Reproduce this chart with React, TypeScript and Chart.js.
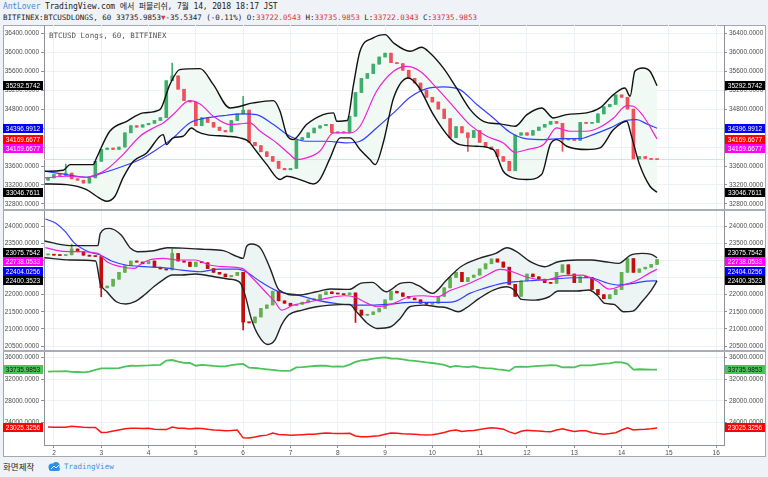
import React, { useEffect, useRef } from "react";
import { Chart, registerables } from "chart.js";

Chart.register(...registerables);

// ---------------- data ----------------
const FIRST_DAY = 1.875; // first 3-hour candle (July 1, 21:00)
const STEP_DAYS = 0.125; // 3 hours
const X_MIN = 1.79;
const X_MAX = 16.165;
const xTicks = [2, 3, 4, 5, 6, 7, 8, 9, 10, 11, 12, 13, 14, 15, 16];

const ticks1 = [32800, 33200, 33600, 34000, 34400, 34800, 35200, 35600, 36000, 36400];
const ticks2 = [20500, 21000, 21500, 22000, 22500, 23000, 23500, 24000];
const ticks3 = [24000, 28000, 32000, 36000];

// BTCUSD Longs closes (3h)
const closes1 = [
  33350, 33420, 33400, 33450, 33330, 33300, 33240, 33350, 33700, 33950,
  33980, 33950, 34000, 34300, 34450, 34420, 34470, 34500, 34560, 34620,
  35400, 35500, 35220, 34980, 34950, 34450, 34620, 34520, 34420, 34350,
  34320, 34560, 34700, 34780, 34100, 34030, 33900, 33800, 33700, 33550,
  33520, 33550, 34150, 34200, 34300, 34400, 34450, 34480, 34300, 34320,
  34300, 34650, 35150, 35450, 35550, 35750, 35900, 35980, 35780, 35760,
  35620, 35450, 35350, 35200, 35050, 34950, 34800, 34600, 34200, 34430,
  34300, 34200, 34350, 34100, 34000, 33950, 33800, 33700, 33500, 34250,
  34300, 34250, 34350, 34420, 34480, 34540, 34500, 34150, 34170, 34140,
  34520, 34500, 34520, 34700, 34850, 34900, 35100, 35050, 34800, 33750,
  33800, 33760, 33740, 33735.9853,
];
const firstOpen1 = 33300;
const wickHigh1 = [[2.25, 33640], [4.5, 35770], [6.0, 35070]];
const wickLow1 = [[10.75, 33910], [12.75, 33910]];

// BTCUSD Shorts closes (3h)
const closes2 = [
  23170, 23150, 23140, 23160, 23330, 23250, 23150, 23120, 23110, 22200,
  22250, 22450, 22650, 22850, 22980, 22950, 22900, 22980, 22800, 22750,
  22720, 23200, 22980, 22950, 22820, 22950, 22930, 22760, 22650, 22600,
  22520, 22560, 22650, 21200, 21180, 21350, 21600, 21700, 22100, 21820,
  21750, 21680, 21720, 21780, 21850, 21880, 22000, 22080, 22030, 22020,
  22000, 22050, 21550, 21400, 21420, 21500, 21600, 21850, 22100, 22050,
  21950, 21900, 21850, 21750, 21720, 21750, 21950, 22200, 22500, 22650,
  22380, 22500, 22570, 22750, 22900, 23040, 22950, 22800, 22300, 21950,
  22400, 22600, 22520, 22450, 22350, 22330, 22650, 22870, 22600, 22350,
  22520, 22500, 22150, 22000, 21880, 22000, 22150, 22650, 23050, 22650,
  22750, 22800, 22880, 23025.3256,
];
const firstOpen2 = 23160;
const wickHigh2 = [[2.375, 23470], [4.5, 23330]];
const wickLow2 = [[3.0, 21940], [6.0, 20970], [8.375, 21190]];

// Panel 1 indicators [day, value]
const bbUpper1 = [
  [1.81, 33490], [2.2, 33511], [2.34, 33630], [2.83, 33630], [2.9, 33770], [3.18, 34333], [3.54, 34544],
  [3.89, 34720], [4.24, 34790], [4.45, 35317], [4.66, 35634], [5.09, 35655], [5.37, 35317], [5.72, 34825],
  [6.21, 34931], [6.64, 34980], [6.78, 34755], [6.92, 34263], [7.06, 34157], [7.34, 34474], [7.69, 34685],
  [7.91, 34720], [7.98, 34544], [8.2, 34560], [8.33, 35300], [8.47, 36020], [8.75, 36302], [9.0, 36372],
  [9.18, 36196], [9.53, 36020], [9.77, 36105], [9.95, 35985], [10.23, 35669], [10.51, 35247], [10.8, 34790],
  [11.08, 34544], [11.43, 34488], [11.75, 34439], [12.0, 34685], [12.31, 34825], [12.56, 34614], [12.84, 34685],
  [13.26, 34720], [13.54, 34825], [13.83, 35106], [14.07, 35247], [14.18, 35071], [14.28, 35599], [14.45, 35669],
  [14.6, 35599], [14.75, 35292.5742],
];
const bbLower1 = [
  [1.81, 33222], [2.27, 33208], [2.69, 33103], [2.9, 32962], [3.11, 32857], [3.29, 32962], [3.46, 33349],
  [3.68, 33701], [3.96, 33876], [4.24, 34228], [4.31, 34263], [4.38, 34052], [4.52, 34193], [4.73, 34228],
  [4.91, 34403], [5.02, 34333], [5.23, 34263], [5.65, 34228], [5.93, 34193], [6.11, 34122], [6.28, 33911],
  [6.5, 33630], [6.78, 33314], [6.92, 33384], [7.2, 33314], [7.48, 33222], [7.62, 33314], [7.84, 33771],
  [8.05, 34193], [8.26, 34193], [8.47, 33950], [8.68, 33736], [8.79, 33630], [8.97, 34122], [9.18, 35036],
  [9.49, 35458], [9.7, 35282], [10.02, 34685], [10.37, 34193], [10.58, 34052], [10.94, 34017], [11.29, 33947],
  [11.5, 33490], [11.71, 33349], [12.0, 33314], [12.31, 33419], [12.49, 34052], [12.63, 34157], [12.84, 34017],
  [13.26, 33947], [13.54, 33982], [13.83, 34368], [14.11, 34544], [14.2, 34263], [14.38, 33630], [14.6, 33173],
  [14.75, 33046.7611],
];
const basis1 = [
  [1.81, 33349], [2.27, 33384], [2.69, 33363], [2.9, 33419], [3.11, 33525], [3.46, 33841], [3.82, 34228],
  [4.17, 34439], [4.31, 34509], [4.52, 34685], [4.87, 34980], [5.09, 34910], [5.37, 34650], [5.72, 34474],
  [5.93, 34488], [6.14, 34509], [6.36, 34333], [6.71, 34087], [6.99, 33841], [7.13, 33736], [7.34, 33771],
  [7.62, 33911], [7.91, 34298], [8.26, 34298], [8.47, 34439], [8.82, 35177], [9.18, 35599], [9.46, 35704],
  [9.74, 35599], [10.09, 35247], [10.44, 34860], [10.79, 34474], [11.15, 34228], [11.5, 34087], [11.75, 33890],
  [12.0, 33947], [12.35, 34052], [12.63, 34403], [12.91, 34333], [13.26, 34333], [13.54, 34418], [13.83, 34614],
  [14.11, 34874], [14.25, 34860], [14.46, 34650], [14.75, 34169.6677],
];
const ma1 = [
  [1.81, 33490], [2.27, 33419], [2.69, 33363], [2.97, 33433], [3.46, 33595], [3.82, 33736], [4.17, 33947],
  [4.52, 34193], [4.87, 34509], [5.23, 34614], [5.65, 34671], [6.0, 34699], [6.28, 34685], [6.64, 34474],
  [6.99, 34228], [7.34, 34122], [7.76, 34122], [8.19, 34087], [8.47, 34122], [8.82, 34403], [9.18, 34720],
  [9.53, 35050], [9.88, 35233], [10.23, 35268], [10.58, 35212], [10.94, 34896], [11.29, 34614], [11.64, 34312],
  [12.0, 34171], [12.35, 34157], [12.7, 34178], [13.12, 34178], [13.4, 34263], [13.76, 34404], [14.11, 34565],
  [14.32, 34579], [14.53, 34488], [14.75, 34396.9912],
];

// Panel 2 indicators [day, value]
const bbUpper2 = [
  [1.8, 23563], [2.34, 23427], [2.93, 23427], [2.98, 23786], [3.17, 23932], [3.42, 23738], [3.62, 23349],
  [3.76, 23252], [4.11, 23281], [4.4, 23368], [4.8, 23349], [5.19, 23320], [5.58, 23281], [5.88, 23106],
  [6.0, 23057], [6.07, 23397], [6.17, 23475], [6.37, 23349], [6.57, 22766], [6.76, 22134], [7.16, 21988],
  [7.55, 22085], [7.84, 22163], [8.24, 22153], [8.48, 22328], [8.73, 22357], [9.02, 22085], [9.32, 22328],
  [9.52, 22357], [9.71, 22260], [10.0, 22037], [10.3, 22425], [10.6, 22814], [10.99, 23057], [11.34, 23203],
  [11.58, 23368], [11.78, 23252], [12.07, 22960], [12.37, 22814], [12.66, 22960], [13.06, 23009], [13.35, 23009],
  [13.65, 22960], [13.94, 22911], [14.19, 23154], [14.43, 23203], [14.63, 23174], [14.75, 23075.7542],
];
const bbLower2 = [
  [1.8, 23077], [2.34, 23009], [2.88, 22979], [2.98, 22328], [3.12, 22085], [3.32, 21794], [3.52, 21726],
  [3.71, 21794], [3.91, 21988], [4.11, 22231], [4.3, 22425], [4.5, 22571], [4.7, 22571], [4.99, 22600],
  [5.39, 22523], [5.68, 22455], [5.93, 22357], [6.03, 22037], [6.17, 21308], [6.32, 20822], [6.52, 20549],
  [6.67, 20676], [6.81, 21113], [6.96, 21405], [7.25, 21551], [7.55, 21648], [7.84, 21696], [8.24, 21716],
  [8.43, 21453], [8.63, 21162], [8.83, 21016], [9.12, 21065], [9.32, 21308], [9.52, 21648], [9.81, 21696],
  [10.1, 21648], [10.3, 21619], [10.55, 21502], [10.7, 21599], [10.99, 21891], [11.29, 22134], [11.58, 22231],
  [11.73, 22134], [11.88, 21862], [12.17, 21842], [12.47, 21939], [12.66, 22105], [13.06, 22105], [13.31, 22134],
  [13.48, 21988], [13.65, 21745], [13.84, 21716], [14.04, 21502], [14.24, 21521], [14.43, 21794], [14.63, 22134],
  [14.75, 22400.3523],
];
const basis2 = [
  [1.82, 23368], [2.14, 23271], [2.54, 23252], [2.93, 23203], [3.12, 22960], [3.42, 22814], [3.71, 22766],
  [3.81, 22863], [4.01, 23009], [4.3, 23057], [4.6, 23009], [4.99, 23009], [5.29, 22863], [5.58, 22814],
  [5.98, 22766], [6.17, 22523], [6.47, 22085], [6.67, 21794], [6.81, 21551], [7.06, 21696], [7.35, 21774],
  [7.75, 21891], [8.14, 21969], [8.34, 21939], [8.63, 21745], [8.83, 21648], [9.12, 21716], [9.52, 21939],
  [9.81, 21969], [10.1, 21939], [10.4, 22134], [10.7, 22280], [11.09, 22523], [11.44, 22736], [11.69, 22668],
  [11.97, 22523], [12.37, 22425], [12.76, 22552], [13.16, 22571], [13.48, 22396], [13.74, 22163], [14.04, 22280],
  [14.34, 22425], [14.58, 22620], [14.75, 22738.0533],
];
const ma2 = [
  [1.82, 24204], [2.04, 24078], [2.24, 23835], [2.44, 23495], [2.73, 23252], [2.98, 23154], [3.22, 22979],
  [3.52, 22863], [3.91, 22814], [4.3, 22785], [4.7, 22717], [5.09, 22668], [5.48, 22746], [5.88, 22746],
  [6.03, 22688], [6.37, 22377], [6.76, 22085], [7.16, 21988], [7.55, 21842], [7.94, 21745], [8.34, 21696],
  [8.73, 21696], [9.12, 21726], [9.52, 21774], [9.91, 21774], [10.3, 21774], [10.5, 21813], [10.79, 22037],
  [11.09, 22182], [11.48, 22328], [11.78, 22377], [12.17, 22416], [12.57, 22455], [12.96, 22493], [13.35, 22493],
  [13.65, 22357], [13.94, 22280], [14.24, 22328], [14.53, 22396], [14.75, 22404.0256],
];

// ---------------- helpers ----------------
const AXIS_W = 41;
const GRID = "#edf0f5";
const AXIS_LINE = "#8d9096";
const TICK_TXT = "#4d4d4d";
const TICK_FONT = { size: 6.5, family: "'Liberation Sans', Arial, sans-serif" };

type Candle = { x: number; o: number; c: number; h: number; l: number };

function buildCandles(closes: number[], firstOpen: number, highs: number[][], lows: number[][]): Candle[] {
  return closes.map((c, i) => {
    const x = FIRST_DAY + i * STEP_DAYS;
    const o = i === 0 ? firstOpen : closes[i - 1];
    let h = Math.max(o, c);
    let l = Math.min(o, c);
    for (const [d, v] of highs) if (Math.abs(d - x) < 1e-6) h = Math.max(h, v);
    for (const [d, v] of lows) if (Math.abs(d - x) < 1e-6) l = Math.min(l, v);
    return { x, o, c, h, l };
  });
}

function candleDatasets(candles: Candle[], up: string, down: string) {
  const colors = candles.map((k) => (k.c >= k.o ? up : down));
  return [
    {
      type: "bar",
      data: candles.map((k) => ({ x: k.x, y: [k.o, k.c] })),
      backgroundColor: colors,
      barThickness: 3,
      grouped: false,
      minBarLength: 1,
      borderWidth: 0,
      order: 3,
      xAxisID: "x",
      yAxisID: "y",
    },
    {
      type: "bar",
      data: candles.map((k) => ({ x: k.x, y: [k.l, k.h] })),
      backgroundColor: colors,
      barThickness: 1,
      grouped: false,
      borderWidth: 0,
      order: 4,
      xAxisID: "x",
      yAxisID: "y",
    },
  ];
}

function lineDS(pairs: number[][], color: string, width: number, order: number, smooth = true) {
  return {
    type: "line",
    data: pairs.map(([x, y]) => ({ x, y })),
    borderColor: color,
    borderWidth: width,
    pointRadius: 0,
    fill: false,
    tension: smooth ? 0.4 : 0,
    cubicInterpolationMode: smooth ? "monotone" : "default",
    order,
    xAxisID: "x",
    yAxisID: "y",
  };
}

function yScale(position: string, min: number, max: number, ticks: number[], gridOnArea: boolean) {
  return {
    type: "linear",
    position,
    min,
    max,
    afterBuildTicks: (s: any) => {
      s.ticks = ticks.map((v) => ({ value: v }));
    },
    afterFit: (s: any) => {
      s.width = AXIS_W;
      s.paddingTop = 0;
      s.paddingBottom = 0;
    },
    ticks: {
      callback: (v: any) => Number(v).toFixed(4),
      font: TICK_FONT,
      color: TICK_TXT,
      padding: 2,
      autoSkip: false,
    },
    grid: { drawOnChartArea: gridOnArea, color: GRID, tickLength: 3, tickColor: AXIS_LINE, tickWidth: 1 },
    border: { display: true, color: AXIS_LINE, width: 1 },
  };
}

function xScale(showLabels: boolean) {
  return {
    type: "linear",
    min: X_MIN,
    max: X_MAX,
    offset: false,
    afterBuildTicks: (s: any) => {
      s.ticks = xTicks.map((v) => ({ value: v }));
    },
    afterFit: (s: any) => {
      s.height = showLabels ? 11 : 0;
      s.paddingLeft = 0;
      s.paddingRight = 0;
    },
    ticks: {
      display: showLabels,
      font: TICK_FONT,
      color: TICK_TXT,
      padding: 1,
      autoSkip: false,
      maxRotation: 0,
      callback: (v: any) => String(v),
    },
    grid: { color: GRID, drawTicks: showLabels, tickLength: 3, tickColor: AXIS_LINE, offset: false },
    border: { display: showLabels, color: AXIS_LINE, width: 1 },
  };
}

const bandFillPlugin = {
  id: "bandFill",
  beforeDatasetsDraw(chart: any, _args: any, opts: any) {
    if (!opts || !opts.bands) return;
    const ctx = chart.ctx;
    const a = chart.chartArea;
    ctx.save();
    ctx.beginPath();
    ctx.rect(a.left, a.top, a.right - a.left, a.bottom - a.top);
    ctx.clip();
    for (const b of opts.bands) {
      const up = chart.getDatasetMeta(b.upper).data;
      const lo = chart.getDatasetMeta(b.lower).data;
      ctx.beginPath();
      up.forEach((p: any, i: number) => (i ? ctx.lineTo(p.x, p.y) : ctx.moveTo(p.x, p.y)));
      for (let i = lo.length - 1; i >= 0; i--) ctx.lineTo(lo[i].x, lo[i].y);
      ctx.closePath();
      ctx.fillStyle = b.color;
      ctx.fill();
    }
    ctx.restore();
  },
};

const priceLabelPlugin = {
  id: "priceLabels",
  afterDraw(chart: any, _args: any, opts: any) {
    if (!opts || !opts.items) return;
    const ctx = chart.ctx;
    const yS = chart.scales.y;
    const H = 9;
    const GAP = opts.gap || 9.5;
    const placed = opts.items.map((it: any) => ({ ...it, py: yS.getPixelForValue(it.value) }));
    placed.sort((p: any, q: any) => p.py - q.py);
    if (opts.dir === "up") {
      for (let i = placed.length - 2; i >= 0; i--) placed[i].py = Math.min(placed[i].py, placed[i + 1].py - GAP);
    } else {
      for (let i = 1; i < placed.length; i++) placed[i].py = Math.max(placed[i].py, placed[i - 1].py + GAP);
    }
    ctx.save();
    ctx.font = "6.5px 'Liberation Sans', Arial, sans-serif";
    ctx.textAlign = "center";
    ctx.textBaseline = "middle";
    for (const s of [chart.scales.y, chart.scales.y2]) {
      const left = s === chart.scales.y ? s.left : s.left + 1;
      const right = s === chart.scales.y ? s.right - 1 : s.right;
      for (const p of placed) {
        ctx.fillStyle = p.bg;
        ctx.fillRect(left, Math.round(p.py - H / 2), right - left, H);
        ctx.fillStyle = p.fg;
        ctx.fillText(p.value.toFixed(4), (left + right) / 2, Math.round(p.py - H / 2) + H / 2 + 0.5);
      }
    }
    ctx.restore();
  },
};

const last = (pairs: number[][]) => pairs[pairs.length - 1][1];

function baseOptions(scales: any, plugins: any) {
  return {
    responsive: false,
    animation: false,
    events: [],
    layout: { padding: 0 },
    scales,
    plugins: { legend: { display: false }, tooltip: { enabled: false }, ...plugins },
  };
}

function buildPanel1(canvas: HTMLCanvasElement) {
  const candles = buildCandles(closes1, firstOpen1, wickHigh1, wickLow1);
  const lastPrice = closes1[closes1.length - 1];
  const datasets: any[] = [
    lineDS(bbUpper1, "#111111", 1.4, 0),
    lineDS(bbLower1, "#111111", 1.4, 0),
    lineDS(basis1, "#f01fd8", 1.2, 1),
    lineDS(ma1, "#3340ff", 1.2, 2),
    lineDS([[X_MIN, lastPrice], [X_MAX, lastPrice]], "#c9e6e2", 1, 6, false),
    ...candleDatasets(candles, "#3fae6c", "#f0505c"),
  ];
  return new Chart(canvas, {
    type: "bar",
    data: { datasets },
    options: baseOptions(
      { x: xScale(false), y: yScale("left", 32693, 36575, ticks1, true), y2: yScale("right", 32693, 36575, ticks1, false) },
      {
        bandFill: { bands: [{ upper: 0, lower: 1, color: "#f1f9f4" }] },
        priceLabels: {
          dir: "down",
          items: [
            { value: last(bbUpper1), bg: "#000000", fg: "#ffffff" },
            { value: last(ma1), bg: "#0000ff", fg: "#ffffff" },
            { value: last(basis1), bg: "#ff0000", fg: "#ffffff" },
            { value: last(basis1), bg: "#ff00ff", fg: "#ffffff" },
            { value: last(bbLower1), bg: "#000000", fg: "#ffffff" },
          ],
        },
      }
    ) as any,
    plugins: [bandFillPlugin, priceLabelPlugin],
  } as any);
}

function buildPanel2(canvas: HTMLCanvasElement) {
  const candles = buildCandles(closes2, firstOpen2, wickHigh2, wickLow2);
  const datasets: any[] = [
    lineDS(bbUpper2, "#222222", 1.4, 0),
    lineDS(bbLower2, "#222222", 1.4, 0),
    lineDS(basis2, "#f01fd8", 1.2, 1),
    lineDS(ma2, "#3340ff", 1.2, 2),
    ...candleDatasets(candles, "#62b04f", "#c40d0d"),
  ];
  return new Chart(canvas, {
    type: "bar",
    data: { datasets },
    options: baseOptions(
      { x: xScale(false), y: yScale("left", 20388, 24437, ticks2, true), y2: yScale("right", 20388, 24437, ticks2, false) },
      {
        bandFill: { bands: [{ upper: 0, lower: 1, color: "#edf4f4" }] },
        priceLabels: {
          dir: "up",
          items: [
            { value: last(bbUpper2), bg: "#000000", fg: "#ffffff" },
            { value: last(basis2), bg: "#ff00ff", fg: "#ffffff" },
            { value: last(ma2), bg: "#0000ff", fg: "#ffffff" },
            { value: last(bbLower2), bg: "#000000", fg: "#ffffff" },
          ],
        },
      }
    ) as any,
    plugins: [bandFillPlugin, priceLabelPlugin],
  } as any);
}

function buildPanel3(canvas: HTMLCanvasElement) {
  const longs = closes1.map((v, i) => [FIRST_DAY + i * STEP_DAYS, v]);
  const shorts = closes2.map((v, i) => [FIRST_DAY + i * STEP_DAYS, v]);
  const datasets: any[] = [
    lineDS(longs, "#4cc35a", 1.8, 0, false),
    lineDS(shorts, "#ff1414", 1.5, 1, false),
  ];
  return new Chart(canvas, {
    type: "line",
    data: { datasets },
    options: baseOptions(
      { x: xScale(true), y: yScale("left", 19885, 36974, ticks3, true), y2: yScale("right", 19885, 36974, ticks3, false) },
      {
        priceLabels: {
          dir: "down",
          items: [
            { value: closes1[closes1.length - 1], bg: "#4cc35a", fg: "#111111" },
            { value: closes2[closes2.length - 1], bg: "#ff0000", fg: "#ffffff" },
          ],
        },
      }
    ) as any,
    plugins: [priceLabelPlugin],
  } as any);
}

const MONO = "'DejaVu Sans Mono', 'Liberation Mono', 'Noto Sans CJK KR', monospace";

export default function App() {
  const r1 = useRef<HTMLCanvasElement>(null);
  const r2 = useRef<HTMLCanvasElement>(null);
  const r3 = useRef<HTMLCanvasElement>(null);

  useEffect(() => {
    const charts = [buildPanel1(r1.current!), buildPanel2(r2.current!), buildPanel3(r3.current!)];
    return () => charts.forEach((c) => c.destroy());
  }, []);

  const red = "#e0323c";
  const canvasStyle = (top: number, h: number): React.CSSProperties => ({
    position: "absolute",
    left: 3,
    top,
    width: 762,
    height: h,
  });

  return (
    <div
      style={{
        position: "fixed",
        left: 0,
        top: 0,
        width: 768,
        height: 477,
        background: "#eff2f6",
        overflow: "hidden",
      }}
    >
      <div
        style={{
          position: "absolute",
          left: 3,
          top: 2,
          fontFamily: MONO,
          fontSize: 8,
          lineHeight: "10px",
          letterSpacing: -0.15,
          color: "#222",
          whiteSpace: "nowrap",
        }}
      >
        <span style={{ color: "#3d8fe0" }}>AntLover</span> TradingView.com 에서 퍼블리쉬, 7월 14, 2018 18:17 JST
      </div>
      <div
        style={{
          position: "absolute",
          left: 3,
          top: 13,
          fontFamily: MONO,
          fontSize: 7.5,
          lineHeight: "10px",
          color: "#222",
          whiteSpace: "nowrap",
        }}
      >
        BITFINEX:BTCUSDLONGS, 60 33735.9853<span style={{ color: red }}>▼</span>-35.5347 (-0.11%) O:
        <span style={{ color: red }}>33722.0543</span> H:<span style={{ color: red }}>33735.9853</span> L:
        <span style={{ color: red }}>33722.0343</span> C:<span style={{ color: red }}>33735.9853</span>
      </div>

      <div
        style={{
          position: "absolute",
          left: 3,
          top: 25,
          width: 763,
          height: 432,
          boxSizing: "border-box",
          border: "1px solid #a3a7b0",
          background: "#ffffff",
        }}
      />

      <canvas ref={r1} width={762} height={184} style={canvasStyle(25, 184)} />
      <div style={{ position: "absolute", left: 3, top: 209, width: 763, height: 2, background: "#a9adb5" }} />
      <canvas ref={r2} width={762} height={139} style={canvasStyle(211, 139)} />
      <div style={{ position: "absolute", left: 3, top: 350, width: 763, height: 2, background: "#a9adb5" }} />
      <canvas ref={r3} width={762} height={104} style={canvasStyle(352, 104)} />

      <div
        style={{
          position: "absolute",
          left: 49,
          top: 31,
          fontFamily: MONO,
          fontSize: 7.5,
          lineHeight: "10px",
          color: "#555",
          whiteSpace: "nowrap",
        }}
      >
        BTCUSD Longs, 60, BITFINEX
      </div>

      <div
        style={{
          position: "absolute",
          left: 3,
          top: 460,
          fontFamily: "'Noto Sans CJK KR', sans-serif",
          fontSize: 8.5,
          lineHeight: "12px",
          color: "#222",
          whiteSpace: "nowrap",
        }}
      >
        화면제작
      </div>
      <svg style={{ position: "absolute", left: 47, top: 461 }} width="15" height="11" viewBox="0 0 15 11">
        <circle cx="5" cy="6" r="3.5" fill="#2f8fe6" />
        <circle cx="9" cy="4.5" r="3.5" fill="#2f8fe6" />
        <rect x="2" y="6" width="11" height="4" rx="2" fill="#2f8fe6" />
        <path d="M4 8 L7 5 L9 7 L12 4" stroke="#ffffff" strokeWidth="1" fill="none" />
      </svg>
      <div
        style={{
          position: "absolute",
          left: 64,
          top: 461,
          fontFamily: MONO,
          fontSize: 7.5,
          lineHeight: "11px",
          color: "#3f92e0",
          whiteSpace: "nowrap",
        }}
      >
        TradingView
      </div>
    </div>
  );
}
